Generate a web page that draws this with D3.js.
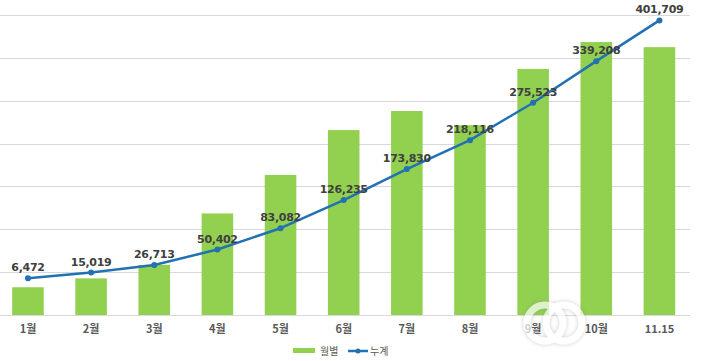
<!DOCTYPE html>
<html><head><meta charset="utf-8">
<script src="https://cdn.jsdelivr.net/npm/d3@7"></script>
<style>
html,body{margin:0;padding:0;background:#fff;}
svg{display:block;font-family:"Malgun Gothic","Noto Sans CJK KR",sans-serif;}
</style></head>
<body>
<svg id="chart" width="703" height="361"></svg>
<script>
const categories = ["1월","2월","3월","4월","5월","6월","7월","8월","9월","10월","11.15"];
const cumulative = [6472,15019,26713,50402,83082,126235,173830,218116,275523,339208,401709];
const monthly = [6472,8547,11694,23689,32680,43153,47595,44286,57407,63685,62501];
const barTicks = [0,10000,20000,30000,40000,50000,60000,70000];
const legendLabels = ["월별","누계"];

const svg = d3.select("#chart");
const pLeft = -3.6, pRight = 691, pTop = 15, pBottom = 315;

const x = d3.scaleBand().domain(categories).range([pLeft, pRight]).paddingInner(0.5).paddingOuter(0.25);
const yBar = d3.scaleLinear().domain([0,70000]).range([pBottom, pTop]);
const yLine = d3.scaleLinear().domain([-50000,410000]).range([pBottom, pTop]);

// gridlines
svg.append("g").selectAll("line").data(barTicks).join("line")
  .attr("x1", 0).attr("x2", 690)
  .attr("y1", d => Math.round(yBar(d)) + 0.5).attr("y2", d => Math.round(yBar(d)) + 0.5)
  .attr("stroke", "#d9d9d9").attr("stroke-width", 1);

// bars
svg.append("g").selectAll("rect").data(monthly).join("rect")
  .attr("x", (d,i) => x(categories[i]))
  .attr("width", x.bandwidth())
  .attr("y", d => yBar(d))
  .attr("height", d => pBottom - yBar(d))
  .attr("fill", "#92d050");

// x axis labels
const xAxis = d3.axisBottom(x).tickSize(0).tickPadding(10);
const gx = svg.append("g").attr("transform", `translate(0,${pBottom})`).call(xAxis);
gx.select(".domain").remove();
gx.selectAll("text").attr("fill", "#595959").attr("font-size", 11).attr("font-weight", "bold")
  .attr("font-family", '"Noto Sans CJK KR",sans-serif');

// line
const cx = c => x(c) + x.bandwidth()/2;
const line = d3.line().x((d,i) => cx(categories[i])).y(d => yLine(d));
svg.append("path").datum(cumulative).attr("d", line)
  .attr("fill", "none").attr("stroke", "#2271b3").attr("stroke-width", 2.5).attr("stroke-linejoin","round");
svg.append("g").selectAll("circle").data(cumulative).join("circle")
  .attr("cx", (d,i) => cx(categories[i])).attr("cy", d => yLine(d)).attr("r", 3)
  .attr("fill", "#2271b3");

// data labels
svg.append("g").selectAll("text").data(cumulative).join("text")
  .attr("x", (d,i) => cx(categories[i])).attr("y", d => yLine(d) - 7)
  .attr("text-anchor", "middle")
  .attr("font-size", 11).attr("font-weight", "bold").attr("fill", "#404040")
  .attr("font-family", '"DejaVu Sans",sans-serif').attr("letter-spacing", "-0.3")
  .text(d => d3.format(",")(d));

// legend
const lg = svg.append("g").attr("transform", "translate(293,351)");
lg.append("rect").attr("x", 0).attr("y", -3).attr("width", 22).attr("height", 5).attr("fill", "#92d050");
lg.append("text").attr("x", 27).attr("y", 0).attr("dy", "0.35em").attr("font-size", 10)
  .attr("fill", "#595959").text(legendLabels[0]);
lg.append("line").attr("x1", 55).attr("x2", 75).attr("y1", 0).attr("y2", 0)
  .attr("stroke", "#2271b3").attr("stroke-width", 2.5);
lg.append("circle").attr("cx", 65).attr("cy", 0).attr("r", 2.5).attr("fill", "#2271b3");
lg.append("text").attr("x", 77).attr("y", 0).attr("dy", "0.35em").attr("font-size", 10)
  .attr("fill", "#595959").text(legendLabels[1]);

// watermark rings (decorative, semi-transparent)
const defs = svg.append("defs");
const f = defs.append("filter").attr("id","sh").attr("x","-20%").attr("y","-20%").attr("width","140%").attr("height","140%");
f.append("feDropShadow").attr("dx",0).attr("dy",0).attr("stdDeviation",2).attr("flood-color","#888").attr("flood-opacity",0.6);
const wm = svg.append("g").attr("opacity", 0.7).attr("filter","url(#sh)");
wm.append("circle").attr("cx", 545).attr("cy", 323).attr("r", 18).attr("fill","none").attr("stroke","#fff").attr("stroke-width", 7);
wm.append("circle").attr("cx", 564).attr("cy", 323).attr("r", 18).attr("fill","none").attr("stroke","#fff").attr("stroke-width", 7);
</script>
</body></html>
